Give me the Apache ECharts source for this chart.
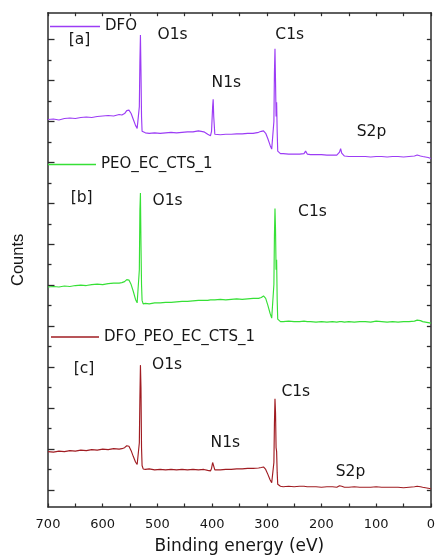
<!DOCTYPE html>
<html>
<head>
<meta charset="utf-8">
<script src="https://cdn.jsdelivr.net/npm/echarts@6/dist/echarts.min.js"></script>
<style>
  html, body { margin: 0; padding: 0; background: #fff; }
  #chart { width: 438px; height: 560px; }
</style>
</head>
<body>
<div id="chart"></div>
<script>
// XPS survey spectra, stacked with vertical offsets (arbitrary count units)
const energy = [
  700, 690, 680, 670, 660, 650, 640, 630, 620, 610, 600, 590, 580, 570, 565, 560,
  556, 552, 548, 544, 540, 537, 535, 533, 532, 531, 530, 529, 528, 526, 522, 515,
  505, 495, 485, 475, 465, 455, 445, 435, 425, 415, 408, 403, 401, 399, 398, 397,
  395, 392, 385, 375, 365, 355, 345, 335, 325, 315, 310, 306, 302, 298, 294, 291,
  289, 287, 286, 285, 284, 283, 282, 281, 280, 278, 275, 270, 260, 250, 240, 232,
  229, 226, 220, 210, 200, 190, 180, 172, 167, 165, 163, 158, 150, 140, 130, 120,
  110, 100, 90, 80, 70, 60, 50, 40, 30, 25, 22, 19, 15, 10, 5, 0
];

const dfo = [
  78.4, 78.5, 78.3, 78.6, 78.7, 78.6, 78.8, 78.9, 78.8, 79.0, 79.1, 79.2, 79.1, 79.4, 79.3, 79.6,
  80.2, 80.3, 79.6, 78.4, 77.2, 76.6, 76.5, 81.0, 90.0, 95.5, 88.0, 79.0, 76.0, 75.6, 75.7, 75.6,
  75.7, 75.6, 75.7, 75.8, 75.7, 75.8, 75.9, 75.9, 76.1, 75.9, 75.4, 75.1, 76.0, 81.0, 82.5, 79.0,
  75.4, 75.2, 75.3, 75.4, 75.4, 75.5, 75.5, 75.6, 75.6, 75.8, 76.0, 76.1, 75.6, 74.5, 73.2, 72.4,
  72.6, 78.0, 88.0, 92.7, 86.0, 79.0, 81.9, 76.0, 72.0, 71.6, 71.5, 71.5, 71.4, 71.4, 71.4, 71.5,
  72.0, 71.4, 71.3, 71.3, 71.3, 71.2, 71.2, 71.2, 71.8, 72.5, 71.6, 71.0, 70.9, 70.9, 70.9, 70.9,
  70.8, 70.9, 70.9, 70.8, 70.9, 70.9, 70.8, 70.9, 71.0, 71.2, 71.3, 71.0, 70.9, 70.8, 70.7, 70.5
];

const peoEcCts = [
  44.5, 44.6, 44.5, 44.7, 44.6, 44.8, 44.9, 44.8, 45.0, 45.1, 45.0, 45.2, 45.3, 45.3, 45.4, 45.6,
  46.0, 45.9, 45.0, 43.6, 42.0, 41.3, 41.2, 48.0, 60.0, 63.5, 53.0, 45.0, 41.8, 41.1, 41.2, 41.1,
  41.3, 41.3, 41.4, 41.4, 41.5, 41.6, 41.6, 41.7, 41.8, 41.8, 41.8, 41.9, 41.8, 41.9, 41.9, 41.8,
  41.9, 41.9, 42.0, 41.9, 42.0, 42.1, 42.0, 42.1, 42.2, 42.2, 42.4, 42.7, 42.2, 40.8, 39.2, 38.2,
  38.6, 45.0, 55.0, 60.4, 56.0, 48.0, 50.0, 42.0, 38.0, 37.6, 37.5, 37.5, 37.6, 37.5, 37.5, 37.6,
  37.8, 37.5, 37.5, 37.4, 37.5, 37.4, 37.5, 37.4, 37.5, 37.6, 37.5, 37.4, 37.5, 37.4, 37.5, 37.5,
  37.4, 37.6, 37.5, 37.4, 37.5, 37.4, 37.5, 37.5, 37.6, 37.8, 38.0, 37.7, 37.5, 37.4, 37.3, 37.2
];

const dfoPeoEcCts = [
  11.2, 11.1, 11.3, 11.2, 11.4, 11.3, 11.5, 11.4, 11.6, 11.5, 11.7, 11.6, 11.8, 11.7, 11.8, 12.0,
  12.4, 12.3, 11.4, 10.2, 9.1, 8.6, 8.7, 13.0, 22.0, 28.7, 24.0, 12.0, 8.4, 7.7, 7.6, 7.7,
  7.5, 7.6, 7.5, 7.6, 7.5, 7.6, 7.5, 7.6, 7.5, 7.6, 7.4, 7.3, 7.8, 9.0, 9.3, 8.6,
  7.5, 7.4, 7.5, 7.6, 7.6, 7.7, 7.7, 7.8, 7.8, 7.9, 8.0, 8.1, 7.6, 6.6, 5.5, 4.9,
  5.2, 9.0, 17.0, 21.9, 19.0, 12.0, 11.2, 7.0, 4.6, 4.3, 4.2, 4.1, 4.2, 4.1, 4.2, 4.2,
  4.5, 4.1, 4.1, 4.1, 4.0, 4.1, 4.1, 4.0, 4.3, 4.5, 4.2, 4.0, 4.0, 4.1, 4.0, 4.0,
  4.0, 4.1, 4.0, 4.0, 4.0, 4.0, 3.9, 4.0, 4.1, 4.2, 4.4, 4.1, 4.0, 3.9, 3.8, 3.7
];

const seriesNames = ['DFO', 'PEO_EC_CTS_1', 'DFO_PEO_EC_CTS_1'];
const seriesColors = ['#9c3cf5', '#36e036', '#a01c22'];
const seriesValues = [dfo, peoEcCts, dfoPeoEcCts];

// Count-axis tick marks (no labels): long majors with a short minor between each pair
const majorTicks = [];
const minorTicks = [];
for (let k = 0; k < 12; k++) {
  majorTicks.push(3.48 + 8.28 * k);
  if (k < 11) minorTicks.push(3.48 + 8.28 * k + 4.14);
}
const allTicks = majorTicks.concat(minorTicks);

const frameColor = '#2b2b2b';
const textColor = '#161616';
const labelFont = '"DejaVu Sans", sans-serif';

const chart = echarts.init(document.getElementById('chart'), null, { renderer: 'canvas' });

const series = seriesNames.map((name, i) => ({
  name: name,
  type: 'line',
  xAxisIndex: 0,
  yAxisIndex: 0,
  data: energy.map((e, j) => [e, seriesValues[i][j]]),
  showSymbol: false,
  symbol: 'none',
  smooth: false,
  lineStyle: { width: 1.15, color: seriesColors[i] },
  itemStyle: { color: seriesColors[i] },
  silent: true
}));

const legendTops = [19, 157, 329.5];
const legendLefts = [50, 48, 51];
const legends = seriesNames.map((name, i) => ({
  data: [name],
  left: legendLefts[i],
  top: legendTops[i],
  orient: 'horizontal',
  padding: 0,
  icon: 'rect',
  itemWidth: i === 0 ? 50 : 48,
  itemHeight: 1.3,
  selectedMode: false,
  textStyle: { fontFamily: labelFont, fontSize: 15, color: textColor, padding: [0, 0, 0, 0] }
}));

function note(text, x, y) {
  return {
    type: 'text', x: x, y: y, silent: true,
    style: {
      text: text, fontFamily: labelFont, fontSize: 15.5, fill: textColor,
      align: 'center', verticalAlign: 'middle'
    }
  };
}

const option = {
  animation: false,
  backgroundColor: '#ffffff',
  grid: { left: 48, right: 4.7, top: 12.7, bottom: 47.3, containLabel: false },
  legend: legends,
  xAxis: [
    {
      type: 'value', min: 0, max: 700, interval: 100, inverse: true, position: 'bottom',
      axisLine: { show: true, onZero: false, lineStyle: { color: frameColor, width: 1.5 } },
      axisTick: { show: true, inside: true, length: 3.5, lineStyle: { color: frameColor, width: 1.2 } },
      minorTick: { show: true, splitNumber: 2, length: 3.5, lineStyle: { color: frameColor, width: 1.2 } },
      axisLabel: { show: true, margin: 11, fontFamily: labelFont, fontSize: 13, color: textColor },
      splitLine: { show: false },
      name: 'Binding energy (eV)', nameLocation: 'middle', nameGap: 31,
      nameTextStyle: { fontFamily: labelFont, fontSize: 17, color: textColor }
    },
    {
      type: 'value', min: 0, max: 700, interval: 50, inverse: true, position: 'top',
      axisLine: { show: true, onZero: false, lineStyle: { color: frameColor, width: 1.5 } },
      axisTick: { show: true, inside: true, length: 3.5, lineStyle: { color: frameColor, width: 1.2 } },
      axisLabel: { show: false },
      splitLine: { show: false }
    }
  ],
  yAxis: [
    {
      type: 'value', min: 0, max: 100, position: 'left',
      axisLine: { show: true, onZero: false, lineStyle: { color: frameColor, width: 1.5 } },
      axisTick: { show: true, inside: true, length: 6.5, customValues: majorTicks,
        lineStyle: { color: frameColor, width: 1.3 } },
      axisLabel: { show: false },
      splitLine: { show: false },
      name: 'Counts', nameLocation: 'middle', nameGap: 21, nameRotate: 90,
      nameTextStyle: { fontFamily: '"Liberation Sans", Arial, sans-serif', fontSize: 16.5, color: textColor }
    },
    {
      type: 'value', min: 0, max: 100, position: 'left',
      axisLine: { show: false, onZero: false },
      axisTick: { show: true, inside: true, length: 3.5, customValues: minorTicks,
        lineStyle: { color: frameColor, width: 1.3 } },
      axisLabel: { show: false },
      splitLine: { show: false }
    },
    {
      type: 'value', min: 0, max: 100, position: 'right',
      axisLine: { show: true, onZero: false, lineStyle: { color: frameColor, width: 1.5 } },
      axisTick: { show: true, inside: true, length: 4, customValues: allTicks,
        lineStyle: { color: frameColor, width: 1.3 } },
      axisLabel: { show: false },
      splitLine: { show: false }
    }
  ],
  graphic: [
    note('[a]', 79.5, 40),
    note('O1s', 172.5, 35),
    note('N1s', 226.3, 83.3),
    note('C1s', 289.7, 35),
    note('S2p', 371.5, 132),
    note('[b]', 81.7, 198.3),
    note('O1s', 167.5, 200.7),
    note('C1s', 312.5, 211.7),
    note('[c]', 84, 369.3),
    note('O1s', 167, 365),
    note('N1s', 225.3, 443.3),
    note('C1s', 295.8, 391.7),
    note('S2p', 350.5, 472)
  ],
  series: series
};

chart.setOption(option);
</script>
</body>
</html>
